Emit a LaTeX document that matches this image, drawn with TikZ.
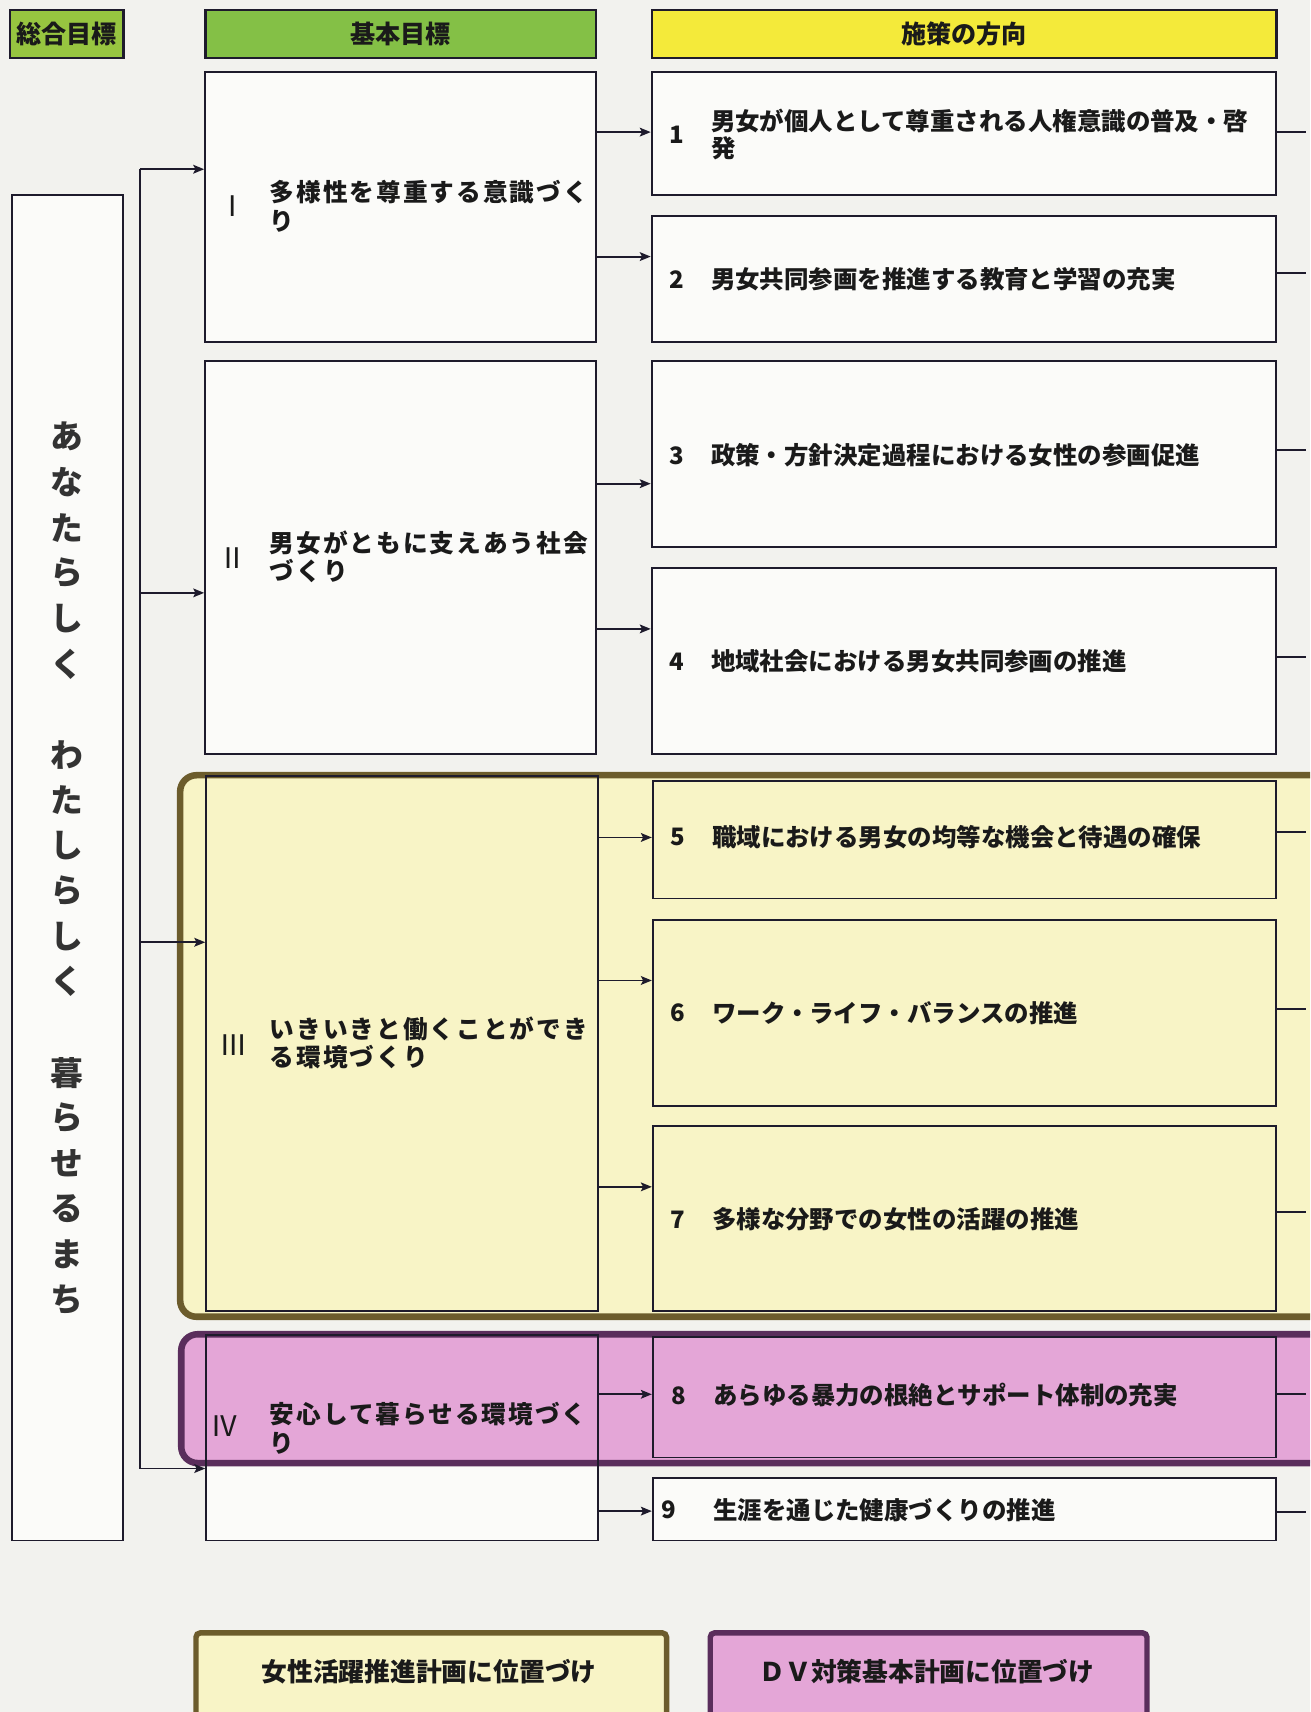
\documentclass[tikz,border=0pt]{standalone}
\usepackage{fontspec}
\setmainfont{Noto Sans CJK JP}
\newfontfamily\jpsp[LetterSpace=8]{Noto Sans CJK JP}
\usetikzlibrary{arrows.meta}
\definecolor{bgc}{HTML}{F2F2EE}
\definecolor{boxfill}{HTML}{FBFBF9}
\definecolor{linec}{HTML}{1E1B2C}
\definecolor{hgreen}{HTML}{84C046}
\definecolor{hgreen2}{HTML}{97C540}
\definecolor{hyellow}{HTML}{F4EA3A}
\definecolor{yreg}{HTML}{F8F4C6}
\definecolor{yborder}{HTML}{6C5C2C}
\definecolor{preg}{HTML}{E4A6D7}
\definecolor{pborder}{HTML}{5A2E5C}
\definecolor{txtc}{HTML}{1A1A1A}
\tikzset{
  box/.style={draw=linec, line width=1.8pt, anchor=north west, inner sep=0pt},
  wbox/.style={box, fill=boxfill},
  hdr/.style={draw=linec, line width=2.2pt, anchor=north west, inner sep=0pt, font=\fontsize{23}{25}\selectfont\bfseries, text=txtc},
  itm/.style={anchor=west, inner sep=0pt, align=left, text=txtc, font=\fontsize{22.4}{25}\selectfont\bfseries},
  bas/.style={anchor=west, inner sep=0pt, align=left, text=txtc, font=\jpsp\fontsize{22.6}{26}\selectfont\bfseries},
  num/.style={inner sep=0pt, text=txtc, font=\fontsize{22}{25}\selectfont\bfseries},
  rom/.style={inner sep=0pt, text=txtc, font=\fontsize{26}{28}\selectfont},
  vt/.style={inner sep=0pt, text=black!80, font=\fontsize{30}{30}\selectfont\bfseries},
  conn/.style={draw=linec, line width=1.7pt},
  arr/.style={conn, -{Stealth[length=10pt,width=8pt,inset=2pt]}},
  lgd/.style={anchor=north west, inner sep=0pt, line width=5pt, rounded corners=4pt}
}
\begin{document}
\begin{tikzpicture}[x=1pt,y=-1pt]
\useasboundingbox (0,0) rectangle (1200,1568);
\clip (0,0) rectangle (1200,1568);
\fill[bgc] (0,0) rectangle (1200,1568);

% headers
\node[hdr, fill=hgreen2, minimum width=104, minimum height=44] (h1) at (8,8) {総合目標};
\node[hdr, fill=hgreen, minimum width=358, minimum height=44] (h2) at (187,8) {基本目標};
\node[hdr, fill=hyellow, minimum width=572, minimum height=44] (h3) at (596,8) {施策の方向};

% left goal box
\node[wbox, minimum width=102, minimum height=1232] (L) at (10,178) {};
\foreach \c/\i in {あ/0,な/1,た/2,ら/3,し/4,く/5,わ/7,た/8,し/9,ら/10,し/11,く/12,暮/14,ら/15,せ/16,る/17,ま/18,ち/19}
  \node[vt] (v\i) at (61,{400+41.6*\i}) {\c};

% basic goal boxes (white)
\node[wbox, minimum width=358, minimum height=247] (bI) at (187,65) {};
\node[wbox, minimum width=358, minimum height=360] (bII) at (187,330) {};
% white part of box IV
\fill[boxfill] (188,1222) rectangle (547,1410);

% policy boxes (white)
\node[wbox, minimum width=572, minimum height=113] (p1) at (596,65) {};
\node[wbox, minimum width=572, minimum height=115] (p2) at (596,197) {};
\node[wbox, minimum width=572, minimum height=170] (p3) at (596,330) {};
\node[wbox, minimum width=572, minimum height=171] (p4) at (596,519) {};
\node[wbox, minimum width=571, minimum height=57] (p9) at (597,1353) {};

% regions
\node[lgd, draw=yborder, fill=yreg, line width=6pt, rounded corners=15pt, minimum width=1060, minimum height=496] (RY) at (162,707) {};
\node[lgd, draw=pborder, fill=preg, line width=6pt, rounded corners=15pt, minimum width=1060, minimum height=118] (RP) at (163,1219) {};

% boxes inside regions
\node[box, minimum width=359, minimum height=490] (bIII) at (188,710) {};
\node[box, minimum width=359, minimum height=188] (bIV) at (188,1222) {};
\node[box, minimum width=571, minimum height=108] (p5) at (597,714) {};
\node[box, minimum width=571, minimum height=170] (p6) at (597,842) {};
\node[box, minimum width=571, minimum height=170] (p7) at (597,1030) {};
\node[box, minimum width=571, minimum height=110] (p8) at (597,1224) {};

% trunk and branches
\coordinate (t1) at (128,155);
\coordinate (t2) at (128,543);
\coordinate (t3) at (128,863);
\coordinate (t4) at (128,1345);
\draw[conn] (t1) -- (t4);
\draw[arr] (t1) -- (bI.west |- t1);
\draw[arr] (t2) -- (bII.west |- t2);
\draw[arr] (t3) -- (bIII.west |- t3);
\draw[arr] (t4) -- (bIV.west |- t4);

% basic -> policy arrows
\draw[arr] (bI.east |- 0,121) -- (p1.west |- 0,121);
\draw[arr] (bI.east |- 0,235) -- (p2.west |- 0,235);
\draw[arr] (bII.east |- 0,443) -- (p3.west |- 0,443);
\draw[arr] (bII.east |- 0,576) -- (p4.west |- 0,576);
\draw[arr] (bIII.east |- 0,767) -- (p5.west |- 0,767);
\draw[arr] (bIII.east |- 0,898) -- (p6.west |- 0,898);
\draw[arr] (bIII.east |- 0,1087) -- (p7.west |- 0,1087);
\draw[arr] (bIV.east |- 0,1277) -- (p8.west |- 0,1277);
\draw[arr] (bIV.east |- 0,1384) -- (p9.west |- 0,1384);

% right stubs
\draw[conn] (p1.east |- 0,121) -- ++(26,0);
\draw[conn] (p2.east |- 0,250) -- ++(26,0);
\draw[conn] (p3.east |- 0,412) -- ++(26,0);
\draw[conn] (p4.east |- 0,602) -- ++(26,0);
\draw[conn] (p5.east |- 0,762) -- ++(26,0);
\draw[conn] (p6.east |- 0,924) -- ++(26,0);
\draw[conn] (p7.east |- 0,1110) -- ++(26,0);
\draw[conn] (p8.east |- 0,1277) -- ++(26,0);
\draw[conn] (p9.east |- 0,1385) -- ++(26,0);

% basic goal texts
\node[rom] (nI) at (213,189) {Ⅰ};
\node[bas] (sI) at (247,189) {多様性を尊重する意識づく\\り};
\node[rom] (nII) at (213,511) {Ⅱ};
\node[bas] (sII) at (247,510) {男女がともに支えあう社会\\づくり};
\node[rom] (nIII) at (214,957) {Ⅲ};
\node[bas] (sIII) at (247,955) {いきいきと働くことができ\\る環境づくり};
\node[rom] (nIV) at (206,1306) {Ⅳ};
\node[bas] (sIV) at (247,1308) {安心して暮らせる環境づく\\り};

% policy texts
\node[num] (n1) at (620,123) {1};
\node[itm] (s1) at (651,123) {男女が個人として尊重される人権意識の普及・啓\\発};
\node[num] (n2) at (620,256) {2};
\node[itm] (s2) at (651,256) {男女共同参画を推進する教育と学習の充実};
\node[num] (n3) at (620,417) {3};
\node[itm] (s3) at (651,417) {政策・方針決定過程における女性の参画促進};
\node[num] (n4) at (620,606) {4};
\node[itm] (s4) at (651,606) {地域社会における男女共同参画の推進};
\node[num] (n5) at (621,767) {5};
\node[itm] (s5) at (652,767) {職域における男女の均等な機会と待遇の確保};
\node[num] (n6) at (621,928) {6};
\node[itm] (s6) at (652,928) {ワーク・ライフ・バランスの推進};
\node[num] (n7) at (621,1117) {7};
\node[itm] (s7) at (652,1117) {多様な分野での女性の活躍の推進};
\node[num] (n8) at (622,1278) {8};
\node[itm] (s8) at (653,1278) {あらゆる暴力の根絶とサポート体制の充実};
\node[num] (n9) at (613,1383) {9};
\node[itm] (s9) at (653,1383) {生涯を通じた健康づくりの推進};

% legend
\node[lgd, draw=yborder, fill=yreg, minimum width=431, minimum height=120] (LY) at (177,1493) {};
\node[lgd, draw=pborder, fill=preg, minimum width=400, minimum height=120] (LP) at (648,1493) {};
\node[num, font=\fontsize{23.6}{25}\selectfont\bfseries] (ty) at (393,1531) {女性活躍推進計画に位置づけ};
\node[num, font=\fontsize{23.6}{25}\selectfont\bfseries] (tp) at (849,1531) {ＤＶ対策基本計画に位置づけ};
\end{tikzpicture}
\end{document}
